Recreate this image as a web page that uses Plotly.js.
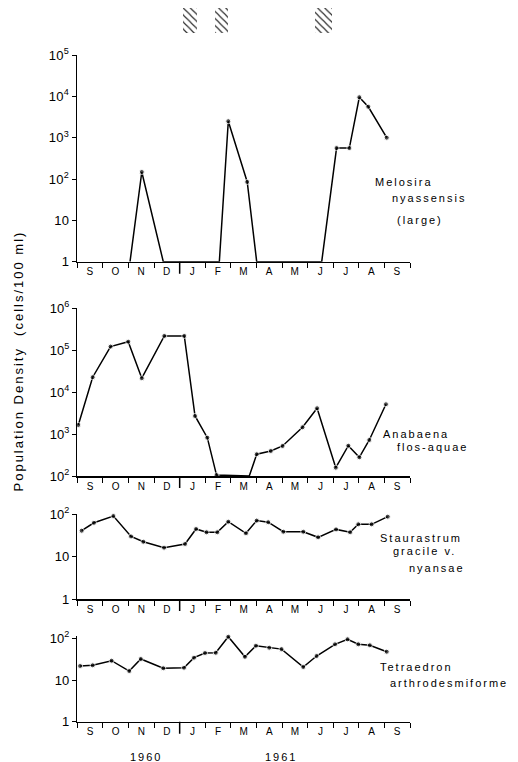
<!DOCTYPE html>
<html>
<head>
<meta charset="utf-8">
<script src="https://cdn.plot.ly/plotly-3.0.1.min.js"></script>
<style>
  html, body { margin: 0; padding: 0; background: #fff; }
  #chart { width: 518px; height: 762px; }
  .annotation-text { letter-spacing: 2px; }
  .xtick text { letter-spacing: 0.5px; }
  .ytick text { letter-spacing: 0.3px; }
</style>
</head>
<body>
<div id="chart"></div>
<script>
// Months from start of Sept 1960 (0) to end of Sept 1961 (13)
const monthLabels = ['S','O','N','D','J','F','M','A','M','J','J','A','S'];
const monthCentres = [0.5,1.5,2.5,3.5,4.5,5.5,6.5,7.5,8.5,9.5,10.5,11.5,12.5];
const monthBounds = [0,1,2,3,4,5,6,7,8,9,10,11,12,13];
const yearBoundary = 4;

// Hatched periods at top (months)
const hatchStart = [4.14, 5.38, 9.29];
const hatchEnd   = [4.68, 5.89, 9.95];

// Melosira nyassensis (large) – values at axis floor (1) = not detected
const melX = [2.06, 2.52, 3.36, 5.55, 5.90, 6.64, 7.01, 9.55, 10.13, 10.63, 11.02, 11.37, 12.09];
const melY = [1, 148, 1, 1, 2500, 85, 1, 1, 560, 560, 9500, 5600, 1000];
const melFloor = 1;

// Anabaena flos-aquae – axis floor 100
const anaX = [0.04, 0.60, 1.30, 1.99, 2.52, 3.40, 4.18, 4.60, 5.08, 5.44, 6.72, 7.01, 7.56, 8.02, 8.80, 9.37, 10.10, 10.59, 11.02, 11.41, 12.06];
const anaY = [1650, 22700, 122000, 160000, 21500, 219000, 219000, 2700, 820, 105, 100, 330, 395, 520, 1450, 4130, 158, 528, 279, 723, 5140];
const anaFloor = 100;

// Staurastrum gracile v. nyansae
const stX = [0.17, 0.65, 1.41, 2.10, 2.58, 3.39, 4.21, 4.64, 5.05, 5.47, 5.90, 6.59, 7.01, 7.46, 8.05, 8.83, 9.41, 10.11, 10.66, 10.98, 11.50, 12.13];
const stY = [41, 63, 91, 30, 22.5, 16.3, 19.9, 45, 37.6, 37.6, 67, 35.6, 71, 65, 38.8, 38.8, 28.6, 44, 37.6, 58, 58, 88];
const stFloor = 1;

// Tetraedron arthrodesmiforme
const teX = [0.11, 0.60, 1.34, 2.03, 2.48, 3.36, 4.17, 4.56, 4.99, 5.41, 5.90, 6.55, 6.98, 7.50, 7.98, 8.83, 9.35, 10.07, 10.56, 10.98, 11.43, 12.09];
const teY = [21.7, 22.5, 29, 16.4, 31.9, 19.1, 19.7, 34.3, 44.4, 45, 109, 36, 66.5, 59.5, 55, 20.5, 37.6, 71.8, 94.6, 71.8, 68, 47.7];
const teFloor = 1;

// Y tick labels
const yTicks1 = [1, 10, 100, 1e3, 1e4, 1e5];
const yText1  = ['1', '10', '10<sup>2</sup>', '10<sup>3</sup>', '10<sup>4</sup>', '10<sup>5</sup>'];
const yTicks2 = [1e2, 1e3, 1e4, 1e5, 1e6];
const yText2  = ['10<sup>2</sup>', '10<sup>3</sup>', '10<sup>4</sup>', '10<sup>5</sup>', '10<sup>6</sup>'];
const yTicks34 = [1, 10, 100];
const yText34  = ['1', '10', '10<sup>2</sup>'];

const W = 518, H = 762;
const FONT = '"Liberation Sans", Arial, Helvetica, sans-serif';
const px = v => v / W;
const py = v => 1 - v / H;

function series(x, y, floor, xa, ya) {
  return {
    type: 'scatter', mode: 'lines+markers', x: x, y: y,
    xaxis: xa, yaxis: ya,
    line: { color: '#000', width: 1.5 },
    marker: { color: '#000', size: y.map(v => v > floor ? 5 : 0) },
    cliponaxis: false, hoverinfo: 'skip', showlegend: false
  };
}

const hatch = {
  type: 'bar', xaxis: 'x', yaxis: 'y5',
  x: hatchStart.map((s, i) => (s + hatchEnd[i]) / 2),
  width: hatchStart.map((s, i) => hatchEnd[i] - s),
  y: hatchStart.map(() => 1),
  marker: { color: '#fff', line: { width: 0 },
    pattern: { shape: '\\', fgcolor: '#222', bgcolor: '#fff', size: 5, solidity: 0.22 } },
  hoverinfo: 'skip', showlegend: false
};

const data = [
  series(melX, melY, melFloor, 'x', 'y'),
  series(anaX, anaY, anaFloor, 'x2', 'y2'),
  series(stX, stY, stFloor, 'x3', 'y3'),
  series(teX, teY, teFloor, 'x4', 'y4'),
  hatch
];

const xDomain = [77.3 / W, 410 / W];
function xAxis(anchor) {
  return {
    domain: xDomain, anchor: anchor, range: [0, 13],
    showline: true, linecolor: '#000', linewidth: 1.5,
    showgrid: false, zeroline: false,
    tickmode: 'array', tickvals: monthCentres, ticktext: monthLabels, ticks: '',
    tickfont: { family: FONT, size: 10, color: '#000' },
    minor: { tickmode: 'array', tickvals: monthBounds, ticks: 'outside', ticklen: 5, tickwidth: 1, tickcolor: '#000', showgrid: false },
    fixedrange: true
  };
}
function yAxis(anchor, domainPx, range, tv, tt) {
  return {
    type: 'log', anchor: anchor, domain: [py(domainPx[1]), py(domainPx[0])], range: range,
    showline: true, linecolor: '#000', linewidth: 1.5,
    showgrid: false, zeroline: false,
    tickmode: 'array', tickvals: tv, ticktext: tt,
    ticks: 'outside', ticklen: 4, tickwidth: 1, tickcolor: '#000',
    tickfont: { family: FONT, size: 13, color: '#000' },
    fixedrange: true
  };
}

function divider(xa, ya) {
  return { type: 'line', xref: xa, yref: ya + ' domain', x0: yearBoundary, x1: yearBoundary,
    ysizemode: 'pixel', yanchor: 0, y0: 0, y1: -12, line: { color: '#000', width: 1.5 } };
}

function label(text, x, y) {
  return { text: text, xref: 'paper', yref: 'paper', x: px(x), y: py(y),
    xanchor: 'left', yanchor: 'middle', showarrow: false,
    font: { family: FONT, size: 11, color: '#000' } };
}

const layout = {
  width: W, height: H,
  margin: { l: 0, r: 0, t: 0, b: 0 },
  paper_bgcolor: '#fff', plot_bgcolor: 'rgba(0,0,0,0)',
  showlegend: false, bargap: 0,
  xaxis: xAxis('y'), xaxis2: xAxis('y2'), xaxis3: xAxis('y3'), xaxis4: xAxis('y4'),
  yaxis: yAxis('x', [55, 261.7], [0, 5], yTicks1, yText1),
  yaxis2: yAxis('x2', [308.3, 476], [2, 6], yTicks2, yText2),
  yaxis3: yAxis('x3', [514.3, 599], [0, 2], yTicks34, yText34),
  yaxis4: yAxis('x4', [635.8, 721.7], [0, 2.06], yTicks34, yText34),
  yaxis5: { domain: [py(33), py(8)], range: [0, 1], visible: false, anchor: 'free', position: 0, fixedrange: true },
  shapes: [divider('x', 'y'), divider('x2', 'y2'), divider('x3', 'y3'), divider('x4', 'y4')],
  annotations: [
    label('Melosira', 373, 182),
    label('nyassensis', 390, 198),
    label('(large)', 395, 220),
    label('Anabaena', 380.7, 434),
    label('flos-aquae', 395, 446.7),
    label('Staurastrum', 378.3, 538.3),
    label('gracile v.', 391, 551),
    label('nyansae', 406.7, 568.3),
    label('Tetraedron', 378.3, 667.3),
    label('arthrodesmiforme', 388.3, 683.3),
    { text: '1960', xref: 'paper', yref: 'paper', x: px(145.5), y: py(756.7), xanchor: 'center', yanchor: 'middle',
      showarrow: false, font: { family: FONT, size: 11, color: '#000' } },
    { text: '1961', xref: 'paper', yref: 'paper', x: px(281), y: py(756.7), xanchor: 'center', yanchor: 'middle',
      showarrow: false, font: { family: FONT, size: 11, color: '#000' } },
    { text: 'Population Density  (cells/100 ml)', xref: 'paper', yref: 'paper', x: px(18), y: py(361.5),
      xanchor: 'center', yanchor: 'middle', textangle: -90, showarrow: false,
      font: { family: FONT, size: 13, color: '#000' } }
  ]
};

Plotly.newPlot('chart', data, layout, { displayModeBar: false, staticPlot: true });
</script>
</body>
</html>
